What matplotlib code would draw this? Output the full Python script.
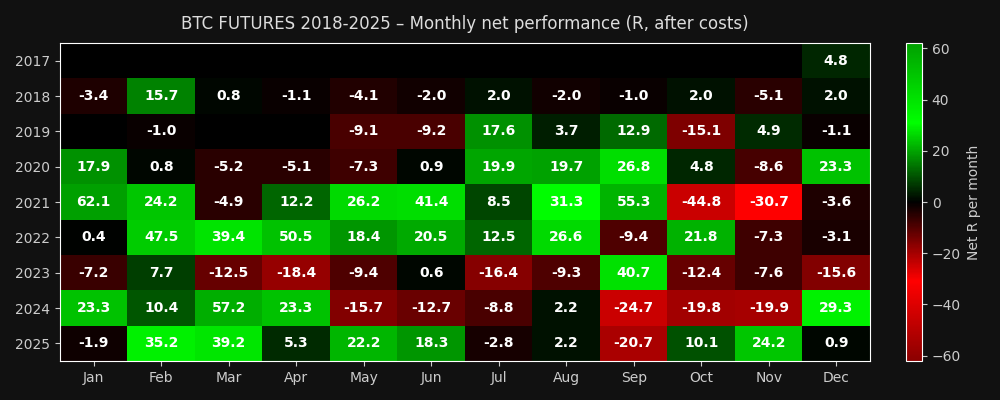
import numpy as np
import matplotlib
matplotlib.use('Agg')
import matplotlib.pyplot as plt
from matplotlib.colors import LinearSegmentedColormap

nan = np.nan
months = ['Jan', 'Feb', 'Mar', 'Apr', 'May', 'Jun', 'Jul', 'Aug', 'Sep', 'Oct', 'Nov', 'Dec']
years = ['2017', '2018', '2019', '2020', '2021', '2022', '2023', '2024', '2025']

r2017 = [nan, nan, nan, nan, nan, nan, nan, nan, nan, nan, nan, 4.8]
r2018 = [-3.4, 15.7, 0.8, -1.1, -4.1, -2.0, 2.0, -2.0, -1.0, 2.0, -5.1, 2.0]
r2019 = [nan, -1.0, nan, nan, -9.1, -9.2, 17.6, 3.7, 12.9, -15.1, 4.9, -1.1]
r2020 = [17.9, 0.8, -5.2, -5.1, -7.3, 0.9, 19.9, 19.7, 26.8, 4.8, -8.6, 23.3]
r2021 = [62.1, 24.2, -4.9, 12.2, 26.2, 41.4, 8.5, 31.3, 55.3, -44.8, -30.7, -3.6]
r2022 = [0.4, 47.5, 39.4, 50.5, 18.4, 20.5, 12.5, 26.6, -9.4, 21.8, -7.3, -3.1]
r2023 = [-7.2, 7.7, -12.5, -18.4, -9.4, 0.6, -16.4, -9.3, 40.7, -12.4, -7.6, -15.6]
r2024 = [23.3, 10.4, 57.2, 23.3, -15.7, -12.7, -8.8, 2.2, -24.7, -19.8, -19.9, 29.3]
r2025 = [-1.9, 35.2, 39.2, 5.3, 22.2, 18.3, -2.8, 2.2, -20.7, 10.1, 24.2, 0.9]

data = np.array([r2017, r2018, r2019, r2020, r2021, r2022, r2023, r2024, r2025])
lim = np.nanmax(np.abs(data))

cmap = LinearSegmentedColormap.from_list(
    'rg', ['#8b0000', '#ff0000', '#000000', '#00ff00', '#00a000'])

bg = '#111111'
fig = plt.figure(figsize=(10, 4), dpi=100, facecolor=bg)
ax = fig.add_axes([0.06, 0.0975, 0.81, 0.795])
cax = fig.add_axes([0.906, 0.0975, 0.016, 0.795])
ax.set_facecolor('black')

im = ax.imshow(data, cmap=cmap, vmin=-lim, vmax=lim, aspect='auto', interpolation='nearest')

for i in range(data.shape[0]):
    for j in range(data.shape[1]):
        v = data[i, j]
        if not np.isnan(v):
            ax.text(j, i, '%.1f' % v, ha='center', va='center', color='white',
                    fontsize=10, fontweight='bold')

ax.set_xticks(range(len(months)))
ax.set_xticklabels(months)
ax.set_yticks(range(len(years)))
ax.set_yticklabels(years)
ax.tick_params(colors='#cccccc', labelsize=10)
for s in ax.spines.values():
    s.set_color('white')

ax.set_title('BTC FUTURES 2018-2025 – Monthly net performance (R, after costs)',
             color='#dddddd', fontsize=12, pad=10)

cb = fig.colorbar(im, cax=cax)
cb.set_label('Net R per month', color='#cccccc', fontsize=10)
cb.ax.tick_params(colors='#cccccc', labelsize=10)
cb.outline.set_edgecolor('white')

fig.savefig('out.png', dpi=100, facecolor=bg)
